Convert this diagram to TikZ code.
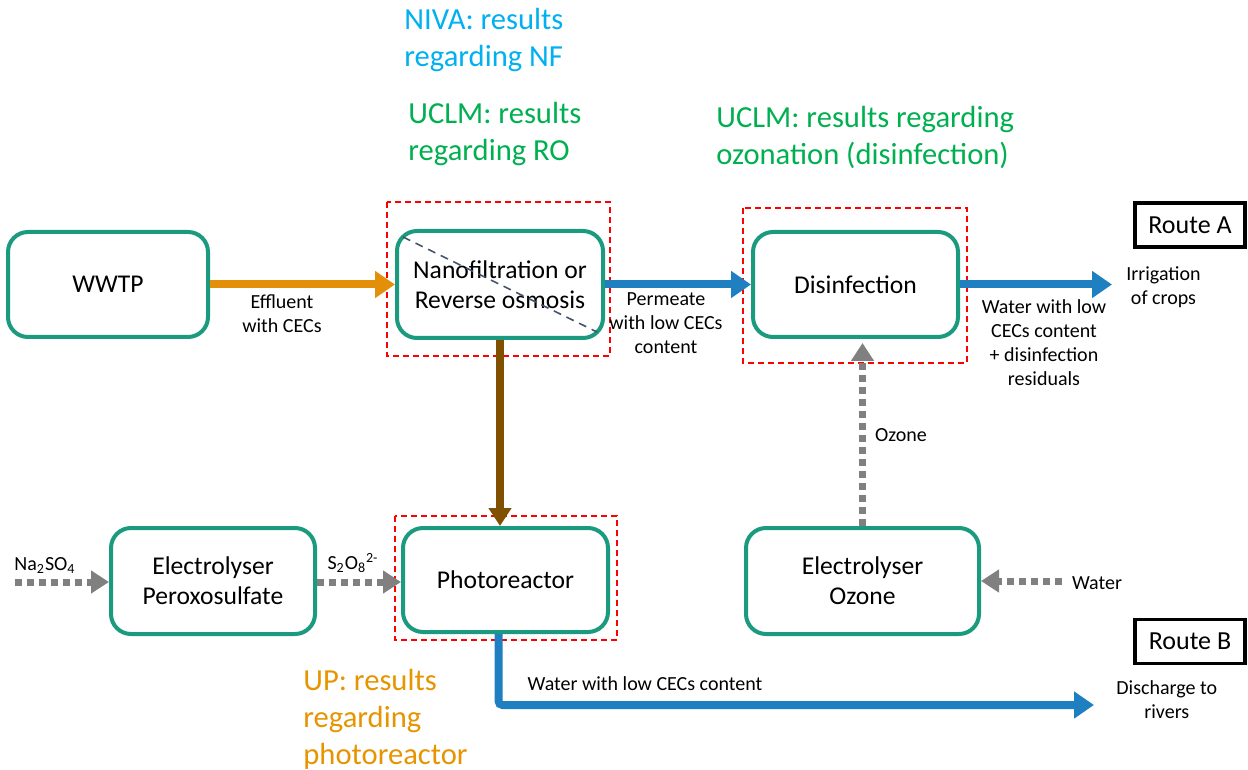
\documentclass[tikz,border=0pt]{standalone}
\usepackage{fontspec}
\setmainfont{Carlito}
\usepackage{tikz}
\usetikzlibrary{arrows.meta, positioning}
\definecolor{boxgreen}{RGB}{26,154,126}
\definecolor{flowblue}{RGB}{31,128,193}
\definecolor{floworange}{RGB}{228,143,10}
\definecolor{flowbrown}{RGB}{128,80,0}
\definecolor{flowgrey}{RGB}{128,128,128}
\definecolor{nivacyan}{RGB}{0,176,240}
\definecolor{uclmgreen}{RGB}{0,176,80}
\definecolor{uporange}{RGB}{230,149,0}
\definecolor{diagline}{RGB}{68,84,106}
\tikzset{
unit/.style={draw=boxgreen, line width=2pt, rounded corners=10pt, fill=white,
  align=center, font=\fontsize{12.8}{15}\selectfont, inner sep=0pt}, % process units
route/.style={draw=black, line width=1.6pt, minimum width=55pt, minimum height=22pt,
  font=\fontsize{13}{15}\selectfont, inner sep=0pt},
lbl/.style={align=center, font=\fontsize{10}{12}\selectfont, inner sep=1pt}, % stream labels
partner/.style={align=left, anchor=north west, font=\fontsize{15.3}{18.5}\selectfont, inner sep=0pt},
resultbox/.style={draw=red, line width=0.8pt, dash pattern=on 3pt off 2pt},
mainflow/.style={line width=4pt, -{Triangle[length=10pt,width=13pt]}},
chemflow/.style={draw=flowgrey, line width=3.5pt, dash pattern=on 3.5pt off 2.5pt,
  -{Triangle[length=9pt,width=11pt]}},
}
\begin{document}
\begin{tikzpicture}[x=0.5pt,y=-0.5pt]
  \useasboundingbox (0,0) rectangle (1248,770);

  % process units
  \node[unit, minimum width=100pt, minimum height=52.5pt] (wwtp) at (108,284.5) {WWTP};
  \node[unit, minimum width=103pt, minimum height=53.5pt] (nf) at (500,284.5) {Nanofiltration or\\Reverse osmosis};
  \node[unit, minimum width=102.5pt, minimum height=52.5pt] (dis) at (855.5,284.5) {Disinfection};
  \node[unit, minimum width=102.5pt, minimum height=52pt] (photo) at (505.5,580) {Photoreactor};
  \node[unit, minimum width=102pt, minimum height=53pt] (elps) at (213,581) {Electrolyser\\Peroxosulfate};
  \node[unit, minimum width=116.5pt, minimum height=53pt] (eloz) at (862.5,581) {Electrolyser\\Ozone};
  \node[route] (routeA) at (1190,225) {Route A};
  \node[route] (routeB) at (1190,641.5) {Route B};

  % red dashed frames and NF split line
  \draw[resultbox] (387,202) rectangle (610,356);
  \draw[resultbox] (743,208) rectangle (967,363);
  \draw[resultbox] (395,516) rectangle (617,640);
  \draw[diagline, line width=0.8pt, dash pattern=on 4pt off 3pt] (403,237) -- (597,332);

  % stream labels
  \node[lbl] (effl) at (282,314) {Effluent\\with CECs};
  \node[lbl] (perm) at (666,323) {Permeate\\with low CECs\\content};
  \node[lbl] (wres) at (1044,343) {Water with low\\CECs content\\+ disinfection\\residuals};
  \node[lbl, anchor=west] (irrig) at (1124,287) {Irrigation\\of crops};
  \node[lbl] (ozone) at (901,435) {Ozone};
  \node[lbl] (water) at (1097,583) {Water};
  \node[lbl] (na) at (45,566) {Na\textsubscript{2}SO\textsubscript{4}};
  \node[lbl] (s2o8) at (353,563) {S\textsubscript{2}O\textsubscript{8}\textsuperscript{2-}};
  \node[lbl] (wlow) at (645,684) {Water with low CECs content};
  \node[lbl, anchor=west] (disch) at (1114,700) {Discharge to\\rivers};
  \coordinate (nain) at (15,582);
  \coordinate (waterin) at (1062,581);

  % partner notes
  \node[partner, text=nivacyan] (niva) at (404,8) {NIVA: results\\regarding NF};
  \node[partner, text=uclmgreen] (uclmro) at (408,102) {UCLM: results\\regarding RO};
  \node[partner, text=uclmgreen] (uclmoz) at (716,106) {UCLM: results regarding\\ozonation (disinfection)};
  \node[partner, text=uporange] (up) at (303,669) {UP: results\\regarding\\photoreactor};

  % flows
  \draw[mainflow, floworange] (wwtp) -- (nf);
  \draw[mainflow, flowblue] (nf) -- (dis);
  \draw[mainflow, flowblue] (dis.east) -- ([xshift=-6pt]dis.east -| irrig.west);
  \draw[mainflow, flowbrown, -{Triangle[length=9pt,width=11pt]}] (nf) -- (photo.north -| nf);
  \draw[mainflow, flowblue, rounded corners=2pt] ([xshift=-3.5pt]photo.south)
    |- ([xshift=-10pt]disch.west |- 0,705);
  \draw[chemflow] (eloz) -- ([yshift=-2pt]dis.south -| eloz);
  \draw[chemflow] (waterin) -- (eloz);
  \draw[chemflow] (nain) -- (elps.west |- nain);
  \draw[chemflow] (elps.east |- nain) -- (photo.west |- nain);
\end{tikzpicture}
\end{document}
